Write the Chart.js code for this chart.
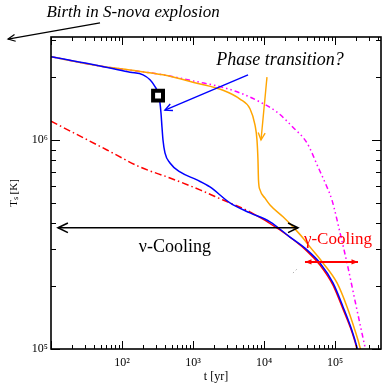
<!DOCTYPE html>
<html>
<head>
<meta charset="utf-8">
<script src="https://cdn.jsdelivr.net/npm/chart.js@4.4.1/dist/chart.umd.min.js"></script>
<style>
  html, body { margin: 0; padding: 0; background: #fff; }
</style>
</head>
<body>
<canvas id="myChart" width="382" height="383"></canvas>
<script>
// surface temperature T_s [K] against age t [yr]
const tBlue = [10, 49, 130, 198, 248, 292, 322, 343, 354, 366, 378, 403, 474, 656, 1137, 1734, 3319, 6353, 12160, 23230, 40360, 61500, 93800, 130000, 173000, 204000, 214000]
const tempBlue = [2.50e6, 2.26e6, 2.11e6, 2.05e6, 1.94e6, 1.80e6, 1.68e6, 1.50e6, 1.35e6, 1.15e6, 1.0e6, 8.67e5, 7.76e5, 7.03e5, 6.44e5, 5.96e5, 5.0e5, 4.48e5, 4.06e5, 3.43e5, 2.98e5, 2.58e5, 2.07e5, 1.59e5, 1.23e5, 1.02e5, 9.5e4]

const tRed = [10, 61.5, 179, 474, 1256, 2650, 6353, 16800, 40360, 61500, 93800, 130000, 173000, 204000, 211000]
const tempRed = [1.23e6, 8.96e5, 7.43e5, 6.58e5, 5.77e5, 5.16e5, 4.53e5, 3.71e5, 2.94e5, 2.52e5, 2.02e5, 1.55e5, 1.21e5, 1.0e5, 9.4e4]

const tOrange = [10, 49, 130, 378, 1137, 2650, 4590, 6353, 7470, 7970, 8230, 8370, 8790, 10330, 12160, 18540, 25600, 35400, 44400, 67800, 107000, 148000, 191000, 225000, 232000]
const tempOrange = [2.50e6, 2.26e6, 2.16e6, 2.05e6, 1.87e6, 1.73e6, 1.57e6, 1.41e6, 1.18e6, 1.0e6, 8.02e5, 6.44e5, 5.77e5, 5.27e5, 4.89e5, 4.29e5, 3.84e5, 3.40e5, 3.08e5, 2.58e5, 2.07e5, 1.59e5, 1.23e5, 1.02e5, 9.7e4]

const tMagenta = [10, 49, 378, 1137, 2400, 4590, 8790, 15240, 25600, 40360, 57700, 77100, 90700, 118000, 152000, 191000, 240000, 265000, 273000]
const tempMagenta = [2.50e6, 2.26e6, 2.05e6, 1.90e6, 1.80e6, 1.68e6, 1.52e6, 1.36e6, 1.15e6, 9.68e5, 7.43e5, 5.96e5, 5.16e5, 3.59e5, 2.47e5, 1.71e5, 1.19e5, 1.02e5, 9.7e4]

const tDotted = [25600, 28000, 30100]
const tempDotted = [2.31e5, 2.38e5, 2.44e5]

const tMarker = [322]
const tempMarker = [1.63e6]

const xTickLabels = {2: '10²', 3: '10³', 4: '10⁴', 5: '10⁵'}
const yTickLabels = {5: '10⁵', 6: '10⁶'}

// notes and arrows, anchored in data units (t, T)
const notes = [
  {text: 'Birth in S-nova explosion', t: 143, T: 4.06e6, color: '#000', font: 'italic 17px "Liberation Serif"'},
  {text: 'Phase transition?', t: 16800, T: 2.41e6, color: '#000', font: 'italic 18px "Liberation Serif"'},
  {text: 'ν-Cooling', t: 557, T: 3.08e5, color: '#000', font: '18px "Liberation Serif"'},
  {text: 'γ-Cooling', t: 1.10e5, T: 3.33e5, color: '#ff0000', font: '17px "Liberation Serif"'}
]
const arrows = [
  {from: [49, 3.63e6], to: [2.48, 3.04e6], color: '#000', width: 1.2, head: 8, filled: false, both: false},
  {from: [5960, 2.05e6], to: [403, 1.39e6], color: '#0000ff', width: 1.4, head: 8, filled: false, both: false},
  {from: [11020, 2.0e6], to: [9080, 1.0e6], color: '#ffa500', width: 1.4, head: 8, filled: false, both: false},
  {from: [12.55, 3.8e5], to: [30100, 3.8e5], color: '#000', width: 1.6, head: 11, filled: false, both: true},
  {from: [37800, 2.61e5], to: [211000, 2.61e5], color: '#ff0000', width: 2, head: 7, filled: true, both: true}
]

const toPoints = (ts, temps) => ts.map((t, i) => ({x: t, y: temps[i]}))

const isNice = (v) => {
  const e = Math.floor(Math.log10(v) + 1e-9)
  const m = v / Math.pow(10, e)
  return Math.abs(m - Math.round(m)) < 1e-6 ? Math.round(m) : 0
}

const drawArrowHead = (ctx, x1, y1, x2, y2, head, filled) => {
  const ang = Math.atan2(y2 - y1, x2 - x1)
  const spread = filled ? 0.38 : 0.45
  ctx.beginPath()
  ctx.moveTo(x2 - head * Math.cos(ang - spread), y2 - head * Math.sin(ang - spread))
  ctx.lineTo(x2, y2)
  ctx.lineTo(x2 - head * Math.cos(ang + spread), y2 - head * Math.sin(ang + spread))
  if (filled) {
    ctx.closePath()
    ctx.fill()
  } else {
    ctx.stroke()
  }
}

const frameAndTicks = {
  id: 'frameAndTicks',
  afterDatasetsDraw(chart) {
    const {ctx, chartArea: a, scales} = chart
    ctx.save()
    ctx.strokeStyle = '#000'
    ctx.lineWidth = 1
    scales.x.ticks.forEach((tk) => {
      const m = isNice(tk.value)
      if (!m) return
      const x = Math.round(scales.x.getPixelForValue(tk.value)) + 0.5
      const len = m === 1 ? 8 : 4
      ctx.beginPath()
      ctx.moveTo(x, a.bottom); ctx.lineTo(x, a.bottom - len)
      ctx.moveTo(x, a.top); ctx.lineTo(x, a.top + len)
      ctx.stroke()
    })
    scales.y.ticks.forEach((tk) => {
      const m = isNice(tk.value)
      if (!m) return
      const y = Math.round(scales.y.getPixelForValue(tk.value)) + 0.5
      const len = m === 1 ? 9 : 5
      ctx.beginPath()
      ctx.moveTo(a.left, y); ctx.lineTo(a.left + len, y)
      ctx.moveTo(a.right, y); ctx.lineTo(a.right - len, y)
      ctx.stroke()
    })
    ctx.lineWidth = 1.6
    ctx.strokeRect(a.left, a.top, a.right - a.left, a.bottom - a.top)
    ctx.restore()
  },
  afterDraw(chart) {
    const {ctx, scales} = chart
    const px = (t) => scales.x.getPixelForValue(t)
    const py = (T) => scales.y.getPixelForValue(T)
    ctx.save()
    arrows.forEach((ar) => {
      const x1 = px(ar.from[0]), y1 = py(ar.from[1])
      const x2 = px(ar.to[0]), y2 = py(ar.to[1])
      ctx.strokeStyle = ar.color
      ctx.fillStyle = ar.color
      ctx.lineWidth = ar.width
      ctx.beginPath()
      ctx.moveTo(x1, y1)
      ctx.lineTo(x2, y2)
      ctx.stroke()
      drawArrowHead(ctx, x1, y1, x2, y2, ar.head, ar.filled)
      if (ar.both) drawArrowHead(ctx, x2, y2, x1, y1, ar.head, ar.filled)
    })
    ctx.textAlign = 'center'
    ctx.textBaseline = 'middle'
    notes.forEach((n) => {
      ctx.font = n.font
      ctx.fillStyle = n.color
      ctx.fillText(n.text, px(n.t), py(n.T))
    })
    ctx.restore()
  }
}

const line = (label, data, color, extra) => Object.assign({
  label,
  data,
  showLine: true,
  borderColor: color,
  backgroundColor: color,
  borderWidth: 1.5,
  pointRadius: 0,
  cubicInterpolationMode: 'monotone'
}, extra)

const datasets = [
  {
    label: 'marker',
    data: toPoints(tMarker, tempMarker),
    pointStyle: 'rect',
    pointRadius: 7,
    pointBorderWidth: 4,
    borderColor: '#000',
    pointBorderColor: '#000',
    pointBackgroundColor: '#fff',
    showLine: false
  },
  line('blue', toPoints(tBlue, tempBlue), '#0000ff'),
  line('red', toPoints(tRed, tempRed), '#ff0000', {
    segment: {borderDash: (c) => (c.p0.parsed.x < 6000 ? [7, 3, 1.5, 3] : [])}
  }),
  line('orange', toPoints(tOrange, tempOrange), '#ffa500'),
  line('magenta', toPoints(tMagenta, tempMagenta), '#ff00ff', {borderDash: [5, 3, 1.5, 3, 1.5, 3]}),
  line('dotted', toPoints(tDotted, tempDotted), '#888888', {borderDash: [1, 3], borderWidth: 1})
]

const serif = {family: '"Liberation Serif", "Times New Roman", serif'}

const config = {
  type: 'scatter',
  data: {datasets},
  options: {
    responsive: false,
    animation: false,
    layout: {autoPadding: false, padding: {top: 37, right: 1, left: 0, bottom: 0}},
    plugins: {legend: {display: false}, tooltip: {enabled: false}},
    scales: {
      x: {
        type: 'logarithmic',
        min: 10,
        max: 4.45e5,
        grid: {display: false, drawTicks: false},
        border: {display: false},
        ticks: {
          autoSkip: false,
          maxRotation: 0,
          padding: 7,
          color: '#000',
          font: Object.assign({size: 12}, serif),
          callback: (v) => xTickLabels[Math.round(Math.log10(v))] && isNice(v) === 1 ? xTickLabels[Math.round(Math.log10(v))] : ''
        },
        title: {display: true, text: 't [yr]', color: '#000', font: Object.assign({size: 12, lineHeight: 1}, serif), padding: {top: 0, bottom: 0}},
        afterFit: (scale) => {
          scale.height = 34
          scale.paddingLeft = 0
          scale.paddingRight = 0
        }
      },
      y: {
        type: 'logarithmic',
        min: 1e5,
        max: 3.11e6,
        grid: {display: false, drawTicks: false},
        border: {display: false},
        ticks: {
          autoSkip: false,
          padding: 3,
          color: '#000',
          font: Object.assign({size: 12}, serif),
          callback: (v) => yTickLabels[Math.round(Math.log10(v))] && isNice(v) === 1 ? yTickLabels[Math.round(Math.log10(v))] : ''
        },
        title: {display: true, text: 'Tₛ [K]', color: '#000', font: Object.assign({size: 11, lineHeight: 1}, serif), padding: {top: 9, bottom: 0}},
        afterFit: (scale) => {
          scale.width = 51
          scale.paddingTop = 0
          scale.paddingBottom = 0
        }
      }
    }
  },
  plugins: [frameAndTicks]
}

const myChart = new Chart(document.getElementById('myChart'), config)
</script>
</body>
</html>
